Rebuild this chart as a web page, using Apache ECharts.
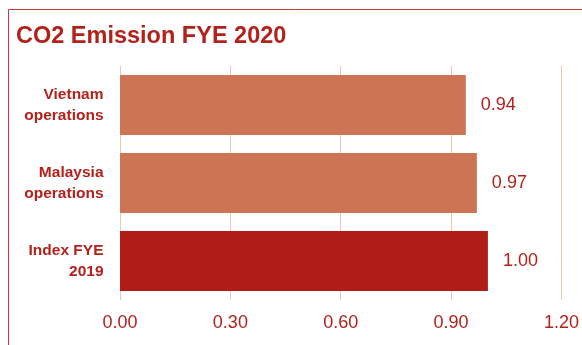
<!DOCTYPE html>
<html>
<head>
<meta charset="utf-8">
<script src="https://cdn.jsdelivr.net/npm/echarts@6/dist/echarts.min.js"></script>
<style>
  html, body { margin: 0; padding: 0; background: #ffffff; }
  #chart { width: 582px; height: 345px; }
</style>
</head>
<body>
<div id="chart"></div>
<script>
// Categories, top to bottom
const categories = ['Vietnam\noperations', 'Malaysia\noperations', 'Index FYE\n2019'];
// CO2 emission index values
const emissions = [0.94, 0.97, 1.00];
// Value axis ticks
const axisTicks = [0.00, 0.30, 0.60, 0.90, 1.20];

const RED = '#b3211b';
const barColors = ['#cc7555', '#cc7555', '#b01c17'];

const chart = echarts.init(document.getElementById('chart'), null, { renderer: 'canvas' });

chart.setOption({
  animation: false,
  backgroundColor: '#ffffff',
  textStyle: { fontFamily: 'Liberation Sans, Arial, sans-serif' },
  title: {
    text: 'CO2 Emission FYE 2020',
    left: 16,
    top: 25,
    padding: 0,
    textStyle: {
      color: RED,
      fontSize: 23.5,
      fontWeight: 'bold',
      fontFamily: 'Liberation Sans, Arial, sans-serif'
    }
  },
  graphic: [
    {
      type: 'line',
      shape: { x1: 8.5, y1: 9.5, x2: 582, y2: 9.5 },
      style: { stroke: '#c93a33', lineWidth: 1 }
    },
    {
      type: 'line',
      shape: { x1: 8.5, y1: 9.5, x2: 8.5, y2: 345 },
      style: { stroke: '#c93a33', lineWidth: 1 }
    }
  ],
  grid: { left: 120, right: 17, top: 66, bottom: 45, containLabel: false },
  xAxis: {
    type: 'value',
    min: axisTicks[0],
    max: axisTicks[axisTicks.length - 1],
    interval: axisTicks[1] - axisTicks[0],
    axisLine: { show: false },
    axisTick: { show: false },
    splitLine: { show: true, lineStyle: { color: '#efc6b6', width: 1 } },
    axisLabel: {
      color: RED,
      fontSize: 18,
      margin: 14,
      formatter: v => v.toFixed(2)
    }
  },
  yAxis: {
    type: 'category',
    data: categories,
    inverse: true,
    axisLine: { show: false },
    axisTick: { show: false },
    splitLine: { show: false },
    axisLabel: {
      color: RED,
      fontSize: 15.5,
      fontWeight: 'bold',
      lineHeight: 21,
      margin: 16.5,
      align: 'right',
      padding: [0, 0, 4, 0]
    }
  },
  series: [{
    type: 'bar',
    barWidth: 60,
    data: emissions.map((v, i) => ({ value: v, itemStyle: { color: barColors[i] } })),
    label: {
      show: true,
      position: 'right',
      distance: 15,
      color: RED,
      fontSize: 18,
      formatter: p => p.value.toFixed(2)
    }
  }]
});
</script>
</body>
</html>
